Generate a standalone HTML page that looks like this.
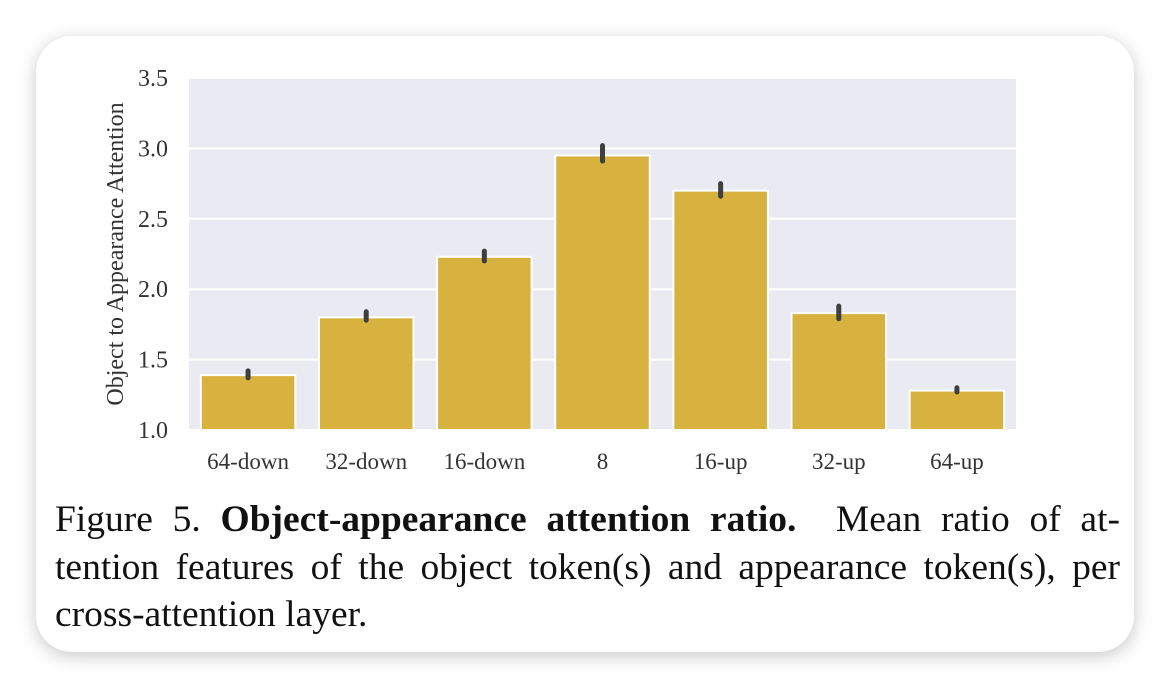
<!DOCTYPE html>
<html><head><meta charset="utf-8"><style>
body{margin:0;width:1170px;height:688px;background:#fff;overflow:hidden;position:relative;font-family:"Liberation Serif",serif}
#card{position:absolute;left:36px;top:36px;width:1098px;height:616px;background:#fff;border-radius:36px;box-shadow:0 4px 18px rgba(0,0,0,0.22)}
.cap{position:absolute;left:55px;width:1065px;font-size:37.5px;color:#111;text-align:justify;text-align-last:justify;white-space:nowrap;line-height:40px}
</style></head><body>
<div id="card"></div>
<svg id="chart" width="1170" height="688" style="position:absolute;left:0;top:0"></svg>
<div class="cap" style="top:500px">Figure 5. <b>Object-appearance attention ratio.</b> &nbsp;Mean ratio of at-</div>
<div class="cap" style="top:548px">tention features of the object token(s) and appearance token(s), per</div>
<div class="cap" style="top:595px;text-align-last:left;width:auto">cross-attention layer.</div>
<script>
const categories=["64-down","32-down","16-down","8","16-up","32-up","64-up"];
const means=[1.39,1.80,2.23,2.95,2.70,1.83,1.28];
const errLow=[1.37,1.78,2.20,2.91,2.66,1.79,1.27];
const errHigh=[1.42,1.84,2.27,3.02,2.75,1.88,1.30];
const yTicks=[1.0,1.5,2.0,2.5,3.0,3.5];
const L=189,R=1016,T=78,B=430,ymin=1,ymax=3.5;
const ns="http://www.w3.org/2000/svg";
const svg=document.getElementById('chart');
function y(v){return B-(v-ymin)/(ymax-ymin)*(B-T);}
const bw=(R-L)/categories.length;
function x(i){return L+bw*(i+0.5);}
function mk(t,a){const e=document.createElementNS(ns,t);for(const k in a)e.setAttribute(k,a[k]);svg.appendChild(e);return e;}
const bg=mk('rect',{x:L,y:T,width:R-L,height:B-T,fill:'#eaeaf2'});


yTicks.forEach(v=>{
 const g=mk('line',{x1:L,x2:R,y1:y(v),y2:y(v),stroke:'#fff','stroke-width':2});
 
 
 const t=mk('text',{x:168,y:y(v)+8,'text-anchor':'end','font-size':24,fill:'#333','font-family':'Liberation Serif, serif'});
 t.textContent=v.toFixed(1);
 
 
});
categories.forEach((c,i)=>{
 const w=bw*0.8;
 const b=mk('rect',{x:x(i)-w/2,y:y(means[i]),width:w,height:B-y(means[i]),fill:'#d8b23e',stroke:'#fff','stroke-width':2});
 
 
 const e=mk('line',{x1:x(i),x2:x(i),y1:y(errLow[i]),y2:y(errHigh[i]),stroke:'#3f3f3f','stroke-width':5,'stroke-linecap':'round'});
 
 
 const t=mk('text',{x:x(i),y:469,'text-anchor':'middle','font-size':23,fill:'#333','font-family':'Liberation Serif, serif'});
 t.textContent=c;
 
 
});
const yl=mk('text',{x:0,y:0,transform:'translate(123,254) rotate(-90)','text-anchor':'middle','font-size':24,fill:'#333','font-family':'Liberation Serif, serif'});
yl.textContent='Object to Appearance Attention';


</script>
</body></html>
